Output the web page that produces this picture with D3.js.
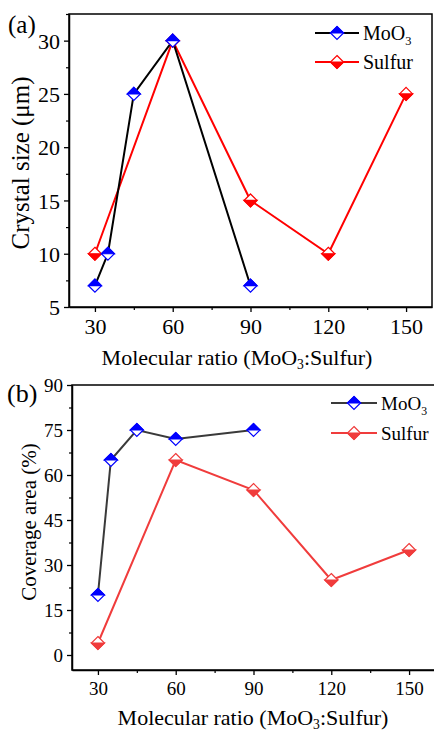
<!DOCTYPE html>
<meta charset='utf-8'>
<script src="https://cdn.jsdelivr.net/npm/d3@7"></script>
<style>
body { margin: 0; background: white; }
text { font-family: 'Liberation Serif', 'Times New Roman', serif; }
</style>
<body></body>
<script>

// DATA
var ratios = [30, 60, 90, 120, 150];
var moX = [30, 35, 45, 60, 90];
var sulX = [30, 60, 90, 120, 150];
var sizeMo = [7, 10, 25, 30, 7];
var sizeSul = [10, 30, 15, 10, 25];
var covMo = [20, 65, 75, 72, 75];
var covSul = [4, 65, 55, 25, 35];
var sizeTicks = [5, 10, 15, 20, 25, 30];
var covTicks = [0, 15, 30, 45, 60, 75, 90];

var svg = d3.select('body').append('svg')
    .attr('width', 434)
    .attr('height', 732);

// half filled diamond, 'top' or 'bottom' half filled
function marker(g, x, y, col, half) {
    var r = 6.5;
    g.append('path')
        .attr('d', 'M' + x + ',' + (y - r) + 'L' + (x + r) + ',' + y + 'L' + x + ',' + (y + r) + 'L' + (x - r) + ',' + y + 'Z')
        .attr('fill', 'white')
        .attr('stroke', col)
        .attr('stroke-width', 1.2);
    var s = half == 'top' ? -1 : 1;
    g.append('path')
        .attr('d', 'M' + (x - r) + ',' + y + 'L' + (x + r) + ',' + y + 'L' + x + ',' + (y + s * r) + 'Z')
        .attr('fill', col)
        .attr('stroke', col)
        .attr('stroke-width', 1.2);
}

function panel(o) {
    var g = svg.append('g');
    var x = d3.scaleLinear().domain([20, 160]).range([o.left, o.right]);
    var y = d3.scaleLinear().domain(o.ydom).range([o.bottom, o.top]);

    // box
    g.append('rect')
        .attr('x', o.left).attr('y', o.top)
        .attr('width', o.right - o.left).attr('height', o.bottom - o.top)
        .attr('fill', 'none').attr('stroke', 'black').attr('stroke-width', 1.5);

    // x axis
    var xa = g.append('g').attr('transform', 'translate(0,' + o.bottom + ')')
        .call(d3.axisBottom(x).tickValues(ratios).tickSize(5).tickSizeOuter(0));
    xa.select('.domain').attr('stroke-width', 1.5);
    xa.selectAll('.tick line').attr('stroke-width', 1.3);
    xa.selectAll('text').attr('font-size', o.tickFont).attr('dy', 0).attr('y', o.xLabelY)
        .attr('font-family', 'Liberation Serif');
    g.append('g').attr('transform', 'translate(0,' + o.bottom + ')')
        .call(d3.axisBottom(x).tickValues([45, 75, 105, 135]).tickSize(3).tickFormat(''))
        .call(function (s) { s.select('.domain').remove(); })
        .selectAll('line').attr('stroke-width', 1.2);

    // y axis
    var ya = g.append('g').attr('transform', 'translate(' + o.left + ',0)')
        .call(d3.axisLeft(y).tickValues(o.yticks).tickSize(5).tickSizeOuter(0));
    ya.select('.domain').attr('stroke-width', 1.5);
    ya.selectAll('.tick line').attr('stroke-width', 1.3);
    ya.selectAll('text').attr('font-size', o.tickFont).attr('x', -9).attr('dy', '0.35em')
        .attr('font-family', 'Liberation Serif');
    g.append('g').attr('transform', 'translate(' + o.left + ',0)')
        .call(d3.axisLeft(y).tickValues(o.minor).tickSize(3).tickFormat(''))
        .call(function (s) { s.select('.domain').remove(); })
        .selectAll('line').attr('stroke-width', 1.2);

    // lines
    var line = d3.line().x(function (d) { return x(d[0]); }).y(function (d) { return y(d[1]); });
    var moPts = d3.zip(moX, o.mo);
    var sulPts = d3.zip(sulX, o.sul);
    g.append('path').datum(sulPts).attr('d', line)
        .attr('fill', 'none').attr('stroke', o.sulLine).attr('stroke-width', 2);
    g.append('path').datum(moPts).attr('d', line)
        .attr('fill', 'none').attr('stroke', o.moLine).attr('stroke-width', 2);
    sulPts.forEach(function (d) { marker(g, x(d[0]), y(d[1]), o.sulCol, 'bottom'); });
    moPts.forEach(function (d) { marker(g, x(d[0]), y(d[1]), '#0000ff', 'top'); });

    // legend
    var lg = [
        {name: 'MoO', sub: '3', line: o.moLine, col: '#0000ff', half: 'top', y: o.legY},
        {name: 'Sulfur', sub: '', line: o.sulLine, col: o.sulCol, half: 'bottom', y: o.legY + o.legGap}
    ];
    lg.forEach(function (d) {
        g.append('line').attr('x1', o.legX).attr('x2', o.legX + o.legLen)
            .attr('y1', d.y).attr('y2', d.y)
            .attr('stroke', d.line).attr('stroke-width', 2);
        marker(g, o.legX + o.legLen / 2, d.y, d.col, d.half);
        var t = g.append('text').attr('x', o.legX + o.legLen + 4).attr('y', d.y + 7)
            .attr('font-size', o.legFont).text(d.name);
        if (d.sub) t.append('tspan').attr('font-size', o.legFont * 0.62).attr('dy', 5).text(d.sub);
    });

    // titles
    var xt = g.append('text').attr('x', o.xTitleX).attr('y', o.xTitleY)
        .attr('text-anchor', 'middle').attr('font-size', o.titleFont).text('Molecular ratio (MoO');
    xt.append('tspan').attr('font-size', o.titleFont * 0.62).attr('dy', 4).text('3');
    xt.append('tspan').attr('dy', -4).text(':Sulfur)');
    g.append('text')
        .attr('transform', 'translate(' + o.yTitleX + ',' + o.yTitleY + ') rotate(-90)')
        .attr('text-anchor', 'middle').attr('font-size', o.yTitleFont).text(o.ytitle);
    g.append('text').attr('x', o.tagX).attr('y', o.tagY)
        .attr('font-size', o.tagFont).text(o.tag);
}

panel({
    left: 69, right: 432, top: 14, bottom: 307,
    ydom: [5, 32.5], yticks: sizeTicks, minor: [7.5, 12.5, 17.5, 22.5, 27.5, 32.5],
    mo: sizeMo, sul: sizeSul,
    moLine: '#000000', sulLine: '#ff0000', sulCol: '#ff0000',
    tickFont: 22, xLabelY: 27, titleFont: 22, yTitleFont: 25,
    legX: 315, legY: 33, legGap: 29, legLen: 44, legFont: 20,
    xTitleX: 237, xTitleY: 365,
    yTitleX: 29, yTitleY: 163, ytitle: 'Crystal size (\u03bcm)',
    tag: '(a)', tagX: 8, tagY: 33, tagFont: 25
});

panel({
    left: 72, right: 435, top: 385, bottom: 670,
    ydom: [-5, 90], yticks: covTicks, minor: [7.5, 22.5, 37.5, 52.5, 67.5, 82.5],
    mo: covMo, sul: covSul,
    moLine: '#3a3a3a', sulLine: '#f03c3c', sulCol: '#f03c3c',
    tickFont: 19, xLabelY: 25, titleFont: 22, yTitleFont: 21,
    legX: 331, legY: 403, legGap: 30, legLen: 46, legFont: 19,
    xTitleX: 253, xTitleY: 725,
    yTitleX: 36, yTitleY: 522, ytitle: 'Coverage area (%)',
    tag: '(b)', tagX: 7, tagY: 402, tagFont: 26
});

</script>
